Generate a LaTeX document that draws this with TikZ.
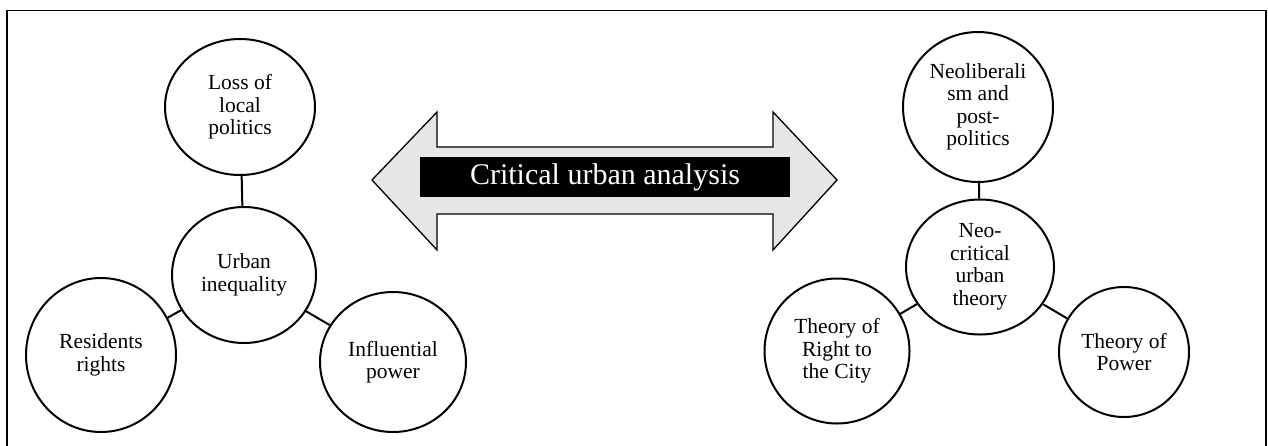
\documentclass[tikz,border=0pt]{standalone}
\usepackage{fontspec}
\setmainfont{Liberation Serif}
\usetikzlibrary{shapes.geometric}
\definecolor{arrowgray}{HTML}{E6E6E6}
\tikzset{
  bubble/.style={ellipse, draw=black, line width=2pt, fill=white, inner sep=0pt,
    align=center, font=\fontsize{21.5}{22.5}\selectfont},
  link/.style={line width=2pt},
}
\begin{document}
\begin{tikzpicture}[x=1pt,y=-1pt]
\useasboundingbox (0,0) rectangle (1268,445);
\fill[white] (0,0) rectangle (1268,445);
\draw[line width=1.4pt] (7,460) -- (7,10.5) -- (1266,10.5) -- (1266,460);
% left cluster
\node[bubble, minimum width=150, minimum height=136] (loss) at (240,107) {Loss of\\local\\politics};
\node[bubble, minimum width=144, minimum height=136] (ui) at (244,275) {Urban\\inequality};
\node[bubble, minimum width=150, minimum height=154] (rr) at (101,355) {Residents\\rights};
\node[bubble, minimum width=146, minimum height=140] (ip) at (393,362) {Influential\\power};
\draw[link] (loss) -- (ui);
\draw[link] (rr) -- (ui);
\draw[link] (ui) -- (ip);
% right cluster
\node[bubble, minimum width=150, minimum height=150] (neo) at (978,107) {Neoliberali\\sm and\\post-\\politics};
\node[bubble, minimum width=148, minimum height=135] (nct) at (980,267) {Neo-\\critical\\urban\\theory};
\node[bubble, minimum width=145, minimum height=145] (rtc) at (837,351) {Theory of\\Right to\\the City};
\node[bubble, minimum width=130, minimum height=130] (tp) at (1124,352) {Theory of\\Power};
\draw[link] (neo) -- (nct);
\draw[link] (rtc) -- (nct);
\draw[link] (nct) -- (tp);
% double arrow
\draw[line width=1.3pt, fill=arrowgray, line join=miter]
  (372,180) -- (437,112) -- (437,147) -- (773,147) -- (773,112) -- (837,180)
  -- (773,250) -- (773,214) -- (437,214) -- (437,250) -- cycle;
\node[fill=black, text=white, minimum width=370, minimum height=40, inner sep=0pt,
  font=\fontsize{30}{32}\selectfont] (cua) at (605,177) {Critical urban analysis};
\end{tikzpicture}
\end{document}
